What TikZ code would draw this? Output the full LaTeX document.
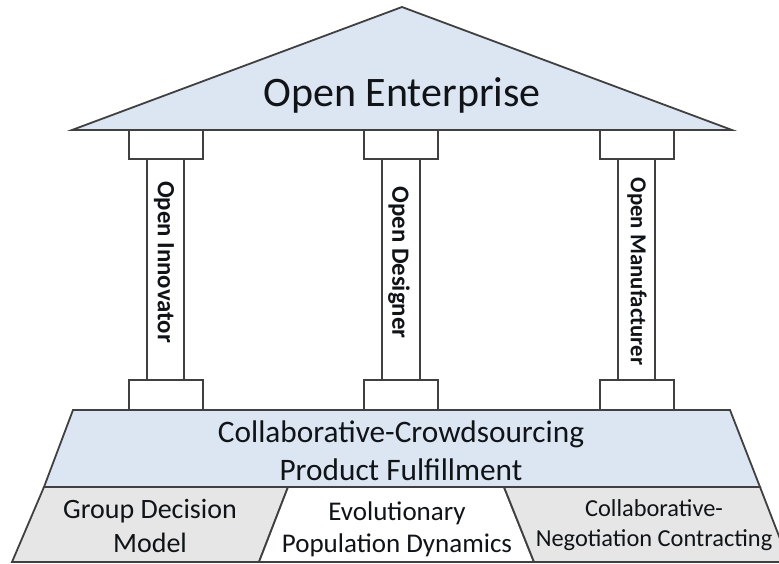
\documentclass[tikz,border=0pt]{standalone}
\usepackage{fontspec}
\setmainfont{Carlito}
\definecolor{paleblue}{HTML}{DCE6F2}
\definecolor{palegrey}{HTML}{E6E6E6}
\definecolor{edge}{HTML}{404040}
\definecolor{ink}{HTML}{101418}
\tikzset{
  outl/.style={draw=edge,line width=1.8pt,line join=miter},
  blueshape/.style={outl,fill=paleblue},
  greyshape/.style={outl,fill=palegrey},
  whiteshape/.style={outl,fill=white},
  lbl/.style={text=ink,inner sep=0pt,align=center},
  pillarlabel/.style={lbl,rotate=-90,font=\fontsize{24.8}{28}\selectfont\bfseries},
  pillarlabeltight/.style={lbl,rotate=-90,font=\fontsize{22.8}{28}\selectfont\bfseries},
  titlelabel/.style={lbl,font=\fontsize{42}{48}\selectfont},
  baselabel/.style={lbl,font=\fontsize{31.3}{38}\selectfont},
  footlabel/.style={lbl,font=\fontsize{28}{34}\selectfont},
  footmid/.style={lbl,font=\fontsize{27}{32}\selectfont},
  footsmall/.style={lbl,font=\fontsize{24.4}{30}\selectfont}
}
\begin{document}
\begin{tikzpicture}[x=1pt,y=-1pt]
\useasboundingbox (0,0) rectangle (779,564);
% columns
\foreach \cx/\wd in {165.5/18.5,401/19,636.5/18.5}{
  \draw[whiteshape] (\cx-\wd,159) rectangle (\cx+\wd,380);
}
\foreach \cx in {166,401,637}{
  \draw[whiteshape] (\cx-37,130) rectangle (\cx+37,159);
  \draw[whiteshape] (\cx-37,380) rectangle (\cx+37,410);
}
% roof
\draw[blueshape] (72,130) -- (402,7) -- (732,130) -- cycle;
% base
\draw[blueshape] (73,410) -- (730,410) -- (760,487) -- (44,487) -- cycle;
% footing
\draw[greyshape] (44,487) -- (288,487) -- (259,562) -- (12,562) -- cycle;
\draw[whiteshape] (288,487) -- (504,487) -- (534,562) -- (259,562) -- cycle;
\draw[greyshape] (504,487) -- (760,487) -- (789,562) -- (534,562) -- cycle;
% labels
\node[titlelabel] (roof) at (402,95) {Open Enterprise};
\node[pillarlabel] (p1) at (164,262) {Open Innovator};
\node[pillarlabel] (p2) at (399,262.5) {Open Designer};
\node[pillarlabeltight] (p3) at (637,271.5) {Open Manufacturer};
\node[baselabel] (base) at (401,451) {Collaborative-Crowdsourcing\\Product Fulfillment};
\node[footlabel] (f1) at (150,526) {Group Decision\\Model};
\node[footmid] (f2) at (397,529) {Evolutionary\\Population Dynamics};
\node[footsmall] (f3) at (654,525) {Collaborative-\\Negotiation Contracting};
\end{tikzpicture}
\end{document}
